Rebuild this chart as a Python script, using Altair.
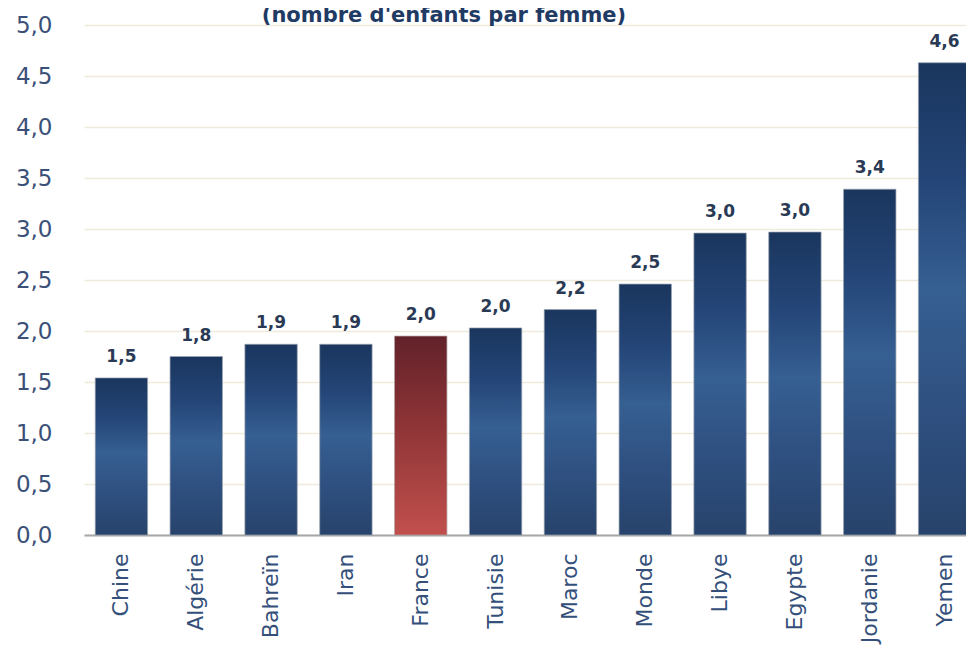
import altair as alt
import pandas as pd

pays = ["Chine", "Algérie", "Bahreïn", "Iran", "France", "Tunisie", "Maroc",
        "Monde", "Libye", "Egypte", "Jordanie", "Yemen"]
valeurs = [1.54, 1.75, 1.87, 1.87, 1.95, 2.03, 2.21, 2.46, 2.96, 2.97, 3.39, 4.63]
etiquettes = ["1,5", "1,8", "1,9", "1,9", "2,0", "2,0", "2,2", "2,5", "3,0", "3,0", "3,4", "4,6"]
titre = "(nombre d'enfants par femme)"

df = pd.DataFrame({"pays": pays, "valeur": valeurs, "etiquette": etiquettes})

font = "DejaVu Sans"

blue_grad = alt.Gradient(
    gradient="linear", x1=0, y1=0, x2=0, y2=1,
    stops=[
        alt.GradientStop(color="#1a365e", offset=0),
        alt.GradientStop(color="#244577", offset=0.25),
        alt.GradientStop(color="#365f92", offset=0.48),
        alt.GradientStop(color="#2e4f7f", offset=0.75),
        alt.GradientStop(color="#27436b", offset=1),
    ],
)
red_grad = alt.Gradient(
    gradient="linear", x1=0, y1=0, x2=0, y2=1,
    stops=[
        alt.GradientStop(color="#62222a", offset=0),
        alt.GradientStop(color="#8e3436", offset=0.45),
        alt.GradientStop(color="#c1504d", offset=1),
    ],
)

x_enc = alt.X(
    "pays:N", sort=pays, title=None,
    scale=alt.Scale(paddingInner=0.3, paddingOuter=0.15, range=[2, 900]),
    axis=alt.Axis(labelAngle=-90, labelFont=font, labelFontSize=22,
                  labelColor="#34507a", labelPadding=18, ticks=False,
                  domainColor="#a6a6a6", domainWidth=2, labelOverlap=False,
                  labelBaseline="middle", labelAlign="right", grid=False),
)
y_enc = alt.Y(
    "valeur:Q", title=None,
    scale=alt.Scale(domain=[0, 5], nice=False),
    axis=alt.Axis(values=[0, 0.5, 1, 1.5, 2, 2.5, 3, 3.5, 4, 4.5, 5],
                  labelExpr="replace(format(datum.value, '.1f'), '.', ',')",
                  labelFont=font, labelFontSize=23, labelColor="#3a5078",
                  labelPadding=30, ticks=False, domain=False,
                  gridColor="#efebdc", gridWidth=1.5),
)

base = alt.Chart(df).encode(x=x_enc, y=y_enc)

bars_blue = base.transform_filter(alt.datum.pays != "France").mark_bar(
    color=blue_grad, stroke="#9aa2ae", strokeWidth=1, strokeOpacity=0.7
)
bars_red = base.transform_filter(alt.datum.pays == "France").mark_bar(
    color=red_grad, stroke="#b0a0a0", strokeWidth=1, strokeOpacity=0.7
)
labels = base.mark_text(
    font=font, fontSize=17, fontWeight="bold", color="#2a3a55",
    baseline="alphabetic", dy=-16
).encode(text="etiquette:N")

chart = alt.layer(bars_blue, bars_red, labels).properties(
    width=884, height=510,
    background="white",
    title=alt.TitleParams(titre, font=font, fontSize=21, fontWeight="bold",
                          color="#1f3b64", anchor="middle", dx=-80, offset=-12),
    autosize=alt.AutoSizeParams(type="none"),
    padding={"left": 74, "top": 17, "right": 0, "bottom": 115},
).configure_view(strokeWidth=0, stroke="transparent")

chart.save("out.html", embed_options={"renderer": "svg", "actions": False})
